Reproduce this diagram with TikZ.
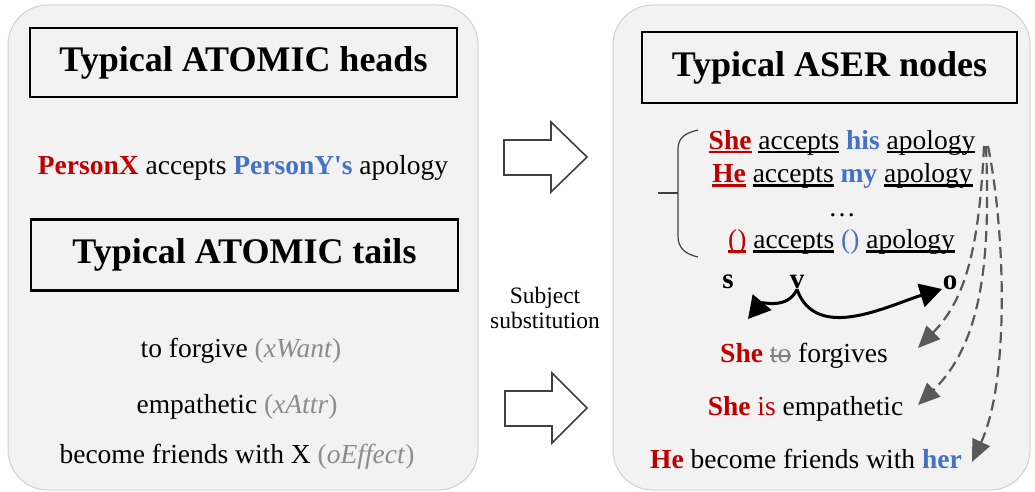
\documentclass[tikz,border=0pt]{standalone}
\usepackage{fontspec}
\setmainfont{Liberation Serif}
\usetikzlibrary{arrows.meta}

\definecolor{hred}{HTML}{C00000}
\definecolor{hblue}{HTML}{4472C4}
\definecolor{lblgray}{HTML}{8C8C8C}
\definecolor{strkgray}{HTML}{808080}
\definecolor{panelfill}{HTML}{F2F2F2}
\definecolor{panelline}{HTML}{D0D0D0}
\definecolor{fangray}{HTML}{595959}
\definecolor{outline}{HTML}{404040}

% underlined word (rule colour optional) and struck-out word
\newsavebox\ulbox
\newcommand\ulin[2][black]{\sbox\ulbox{#2}\rlap{\textcolor{#1}{\rule[-4.5pt]{\wd\ulbox}{2.2pt}}}\usebox\ulbox}
\newcommand\strk[1]{\sbox\ulbox{#1}\rlap{\rule[5.5pt]{\wd\ulbox}{1.4pt}}\usebox\ulbox}

\begin{document}
\begin{tikzpicture}[x=1pt,y=-1pt,
  panel/.style={fill=panelfill,draw=panelline,line width=1pt,rounded corners=40pt,inner sep=0pt},
  headbox/.style={draw=black,line width=2.5pt,inner sep=0pt,font=\fontsize{36}{40}\selectfont\bfseries},
  body/.style={inner sep=0pt,anchor=base,font=\fontsize{27.5}{32}\selectfont},
  role/.style={inner sep=1pt,anchor=base,font=\fontsize{29}{32}\selectfont\bfseries},
  blockarrow/.style={draw=outline,line width=1.6pt,fill=white,line join=miter},
  svoarrow/.style={draw=black,line width=3pt,-{Triangle[length=22pt,width=24pt]}},
  fanarrow/.style={draw=fangray,line width=2.2pt,dash pattern=on 11pt off 6pt,
                   -{Triangle[length=22pt,width=19pt]}},
  bracket/.style={draw=outline,line width=1.2pt}
]
\useasboundingbox (0,0) rectangle (1035,492);

% background panels
\node[panel,minimum width=470pt,minimum height=485pt] (leftpanel) at (243,247.5) {};
\node[panel,minimum width=417pt,minimum height=485pt] (rightpanel) at (821.5,247.5) {};

% titles
\node[headbox,minimum width=427pt,minimum height=69pt] (headsTitle) at (243.5,62.5) {Typical ATOMIC heads};
\node[headbox,minimum width=427pt,minimum height=71pt] (tailsTitle) at (244.5,255) {Typical ATOMIC tails};
\node[headbox,minimum width=375pt,minimum height=71pt] (aserTitle) at (829.5,67.5) {Typical ASER nodes};

% ATOMIC side
\node[body] (headX) at (243,174) {\textcolor{hred}{\bfseries PersonX} accepts \textcolor{hblue}{\bfseries PersonY\textquotesingle s} apology};
\node[body] (tailA) at (241,357) {to forgive \textcolor{lblgray}{(\textit{xWant})}};
\node[body] (tailB) at (237,413) {empathetic \textcolor{lblgray}{(\textit{xAttr})}};
\node[body] (tailC) at (237,463) {become friends with X \textcolor{lblgray}{(\textit{oEffect})}};

% block arrows between the panels
\draw[blockarrow] (504,140) -- (551,140) -- (551,122) -- (587,157) -- (551,192) -- (551,175) -- (504,175) -- cycle;
\draw[blockarrow] (505,391) -- (552,391) -- (552,373) -- (587,408) -- (552,443) -- (552,426) -- (505,426) -- cycle;
\node[align=center,inner sep=0pt,font=\fontsize{23.5}{25}\selectfont] (substLabel) at (545,308) {Subject\\substitution};

% ASER side: matched nodes
\node[body] (aserA) at (842,149) {\ulin[hred]{\textcolor{hred}{\bfseries She}} \ulin{accepts} \textcolor{hblue}{\bfseries his} \ulin{apology}};
\node[body] (aserB) at (842.5,182) {\ulin[hred]{\textcolor{hred}{\bfseries He}} \ulin{accepts} \textcolor{hblue}{\bfseries my} \ulin{apology}};
\node[body] (aserDots) at (842,216) {\textellipsis};
\node[body] (aserC) at (841.5,248) {\ulin[hred]{\textcolor{hred}{()}} \ulin{accepts} \textcolor{hblue}{()} \ulin{apology}};

% bracket grouping the nodes
\draw[bracket] (698,130) .. controls (685,133) and (678,138) .. (678,149) -- (678,236)
               .. controls (678,248) and (685,254) .. (698,257);
\draw[bracket] (658,193) -- (678,193);

% subject / verb / object pattern
\node[role] (roleS) at (728,288) {s};
\node[role] (roleV) at (797,288) {v};
\node[role] (roleO) at (950,289) {o};
\coordinate (sEnd) at (748,319);
\coordinate (oEnd) at (942,289);
\draw[svoarrow] (roleV.south) to[out=-115,in=50] (sEnd);
\draw[svoarrow] (roleV.south) to[out=-70,in=197] (oEnd);

% substituted tails
\node[body] (resA) at (804,362) {\textcolor{hred}{\bfseries She} \textcolor{strkgray}{\strk{to}} forgives};
\node[body] (resB) at (805.5,415) {\textcolor{hred}{\bfseries She} \textcolor{hred}{is} empathetic};
\node[body] (resC) at (806,468) {\textcolor{hred}{\bfseries He} become friends with \textcolor{hblue}{\bfseries her}};

% dashed fan from the nodes to the tails
\coordinate (fanTop) at (984,146);
\coordinate (tipA) at (918,348);
\coordinate (tipB) at (918,405);
\coordinate (tipC) at (972,462);
\draw[fanarrow] (fanTop) .. controls (979,250) and (965,300) .. (tipA);
\draw[fanarrow] ([xshift=2pt]fanTop) .. controls (990,250) and (985,340) .. (tipB);
\draw[fanarrow] ([xshift=4pt]fanTop) .. controls (1005,230) and (1010,380) .. (tipC);
\end{tikzpicture}
\end{document}
